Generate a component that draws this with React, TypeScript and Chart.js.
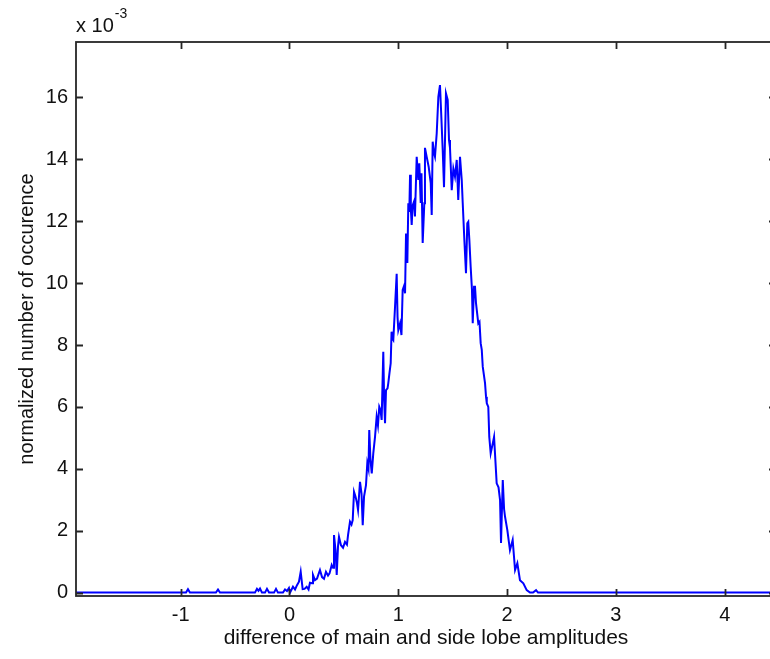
import React, { useEffect, useRef } from "react";
import { Chart, registerables } from "chart.js";

Chart.register(...registerables);

// x values (difference of amplitudes)
const xValues = [
  -1.962, -0.951, -0.933, -0.915, -0.676, -0.657, -0.639, -0.317, -0.299, -0.285, -0.271, -0.253,
  -0.225, -0.207, -0.188, -0.142, -0.124, -0.106, -0.06, -0.041, -0.023, -0.005, 0.005,
  0.032, 0.051, 0.069, 0.087, 0.103, 0.121, 0.138, 0.158, 0.175, 0.188, 0.207, 0.216, 0.234, 0.253,
  0.28, 0.299, 0.317, 0.335, 0.354, 0.368, 0.388, 0.4, 0.409, 0.423, 0.434, 0.446, 0.455, 0.473,
  0.492, 0.51, 0.528, 0.538, 0.556, 0.57, 0.581, 0.593, 0.607, 0.62, 0.63, 0.648, 0.662, 0.673,
  0.685, 0.703, 0.715, 0.726, 0.733, 0.744, 0.756, 0.77, 0.786, 0.801, 0.813, 0.825, 0.836, 0.847,
  0.855, 0.862, 0.87, 0.878, 0.887, 0.901, 0.908, 0.919, 0.93, 0.938, 0.947, 0.954, 0.97, 0.985,
  0.993, 1.0, 1.016, 1.029, 1.04, 1.052, 1.062, 1.071, 1.083, 1.092, 1.101, 1.108, 1.115, 1.123,
  1.131, 1.144, 1.153, 1.169, 1.184, 1.193, 1.206, 1.213, 1.224, 1.239, 1.245, 1.261, 1.279, 1.298,
  1.307, 1.316, 1.328, 1.337, 1.353, 1.368, 1.383, 1.392, 1.408, 1.42, 1.438, 1.454, 1.466, 1.475,
  1.491, 1.506, 1.521, 1.537, 1.551, 1.567, 1.583, 1.592, 1.607, 1.622, 1.634, 1.643, 1.653, 1.665,
  1.677, 1.684, 1.696, 1.705, 1.714, 1.735, 1.746, 1.757, 1.767, 1.776, 1.797, 1.806, 1.813, 1.827,
  1.836, 1.849, 1.868, 1.88, 1.904, 1.921, 1.935, 1.944, 1.96, 1.972, 1.981, 2.002, 2.026, 2.051,
  2.073, 2.094, 2.118, 2.149, 2.18, 2.21, 2.238, 2.266, 2.284, 4.471,
];

// normalized number of occurence, in units of 1e-3
const yValues = [
  0, 0, 0.11, 0, 0, 0.1, 0, 0, 0.12, 0.06, 0.13, 0,
  0, 0.12, 0, 0, 0.12, 0, 0, 0.1, 0.05, 0.15, 0,
  0.19, 0.1, 0.24, 0.35, 0.67, 0.11, 0.12, 0.19, 0.1, 0.32, 0.3, 0.57, 0.4, 0.45,
  0.73, 0.5, 0.45, 0.67, 0.55, 0.62, 0.89, 0.8, 1.86, 1.37, 0.57, 1.5, 1.8, 1.53,
  1.45, 1.64, 1.55, 1.86, 2.29, 2.2, 2.34, 3.26, 3.1, 2.9, 2.67, 3.58, 3.2, 2.18,
  3.1, 3.47, 4.18, 4.0, 5.25, 4.3, 3.85, 4.5, 5.03, 5.68, 5.4, 6.0, 5.9, 5.58,
  6.77, 7.78, 6.2, 5.47, 6.54, 6.6, 6.77, 7.1, 7.41, 8.43, 8.2, 8.16, 9.24, 10.3,
  8.9, 8.48, 8.7, 8.32, 9.78, 9.9, 9.67, 11.6, 10.65, 12.58, 12.3, 13.5, 12.4, 11.88,
  12.5, 12.63, 12.15, 14.08, 13.33, 13.87, 12.59, 13.55, 11.3, 12.58, 14.37, 14.08, 13.76, 13.23,
  12.2, 14.57, 14.2, 14.08, 14.84, 16.02, 16.4, 15.66, 14.3, 13.1, 16.13, 15.92, 14.62, 14.37,
  13.0, 13.7, 13.44, 13.98, 12.69, 14.08, 13.33, 12.59, 11.39, 10.32, 11.93, 11.98, 11.39, 10.53,
  9.78, 8.7, 9.88, 9.88, 9.35, 8.7, 8.75, 8.06, 7.84, 7.3, 6.77, 6.33, 6.12, 6.0,
  5.03, 4.5, 4.82, 5.03, 3.53, 3.4, 2.99, 1.6, 3.64, 2.7, 2.45, 2.02, 1.37, 1.7,
  0.73, 0.95, 0.4, 0.3, 0.08, 0, 0, 0.08, 0, 0,
];

const xTickValues = [-1, 0, 1, 2, 3, 4];
const yTickValues = [0, 2, 4, 6, 8, 10, 12, 14, 16];
const xMin = -1.962;
const xMax = 4.471;
const yMin = -0.11;
const yMax = 17.79;

const xTitle = "difference of main and side lobe amplitudes";
const yTitle = "normalized number of occurence";
const exponentBase = "x 10";
const exponentPower = "-3";

const FONT = "Arial, 'Liberation Sans', sans-serif";
const AXIS_COLOR = "#262626";

const framePlugin = {
  id: "matlabFrame",
  afterDraw(chart: any) {
    const { ctx, chartArea } = chart;
    const { left, right, top, bottom } = chartArea;
    const xs = chart.scales.x;
    const ys = chart.scales.y;
    const tick = 7;
    ctx.save();
    ctx.strokeStyle = AXIS_COLOR;
    ctx.lineWidth = 1.8;
    ctx.strokeRect(left, top, right - left, bottom - top);
    ctx.beginPath();
    for (const v of xTickValues) {
      const px = Math.round(xs.getPixelForValue(v)) + 0.5;
      ctx.moveTo(px, bottom);
      ctx.lineTo(px, bottom - tick);
      ctx.moveTo(px, top);
      ctx.lineTo(px, top + tick);
    }
    for (const v of yTickValues) {
      const py = Math.round(ys.getPixelForValue(v)) + 0.5;
      ctx.moveTo(left, py);
      ctx.lineTo(left + tick, py);
      ctx.moveTo(right, py);
      ctx.lineTo(right - tick, py);
    }
    ctx.stroke();
    // exponent label
    ctx.fillStyle = "#111";
    ctx.textBaseline = "alphabetic";
    ctx.textAlign = "left";
    ctx.font = `20px ${FONT}`;
    ctx.fillText(exponentBase, left, 32);
    const w = ctx.measureText(exponentBase).width;
    ctx.font = `14px ${FONT}`;
    ctx.fillText(exponentPower, left + w + 1, 18);
    ctx.restore();
  },
};

export default function App() {
  const canvasRef = useRef<HTMLCanvasElement | null>(null);

  useEffect(() => {
    const canvas = canvasRef.current;
    if (!canvas) return;
    const points = xValues.map((x, i) => ({ x, y: yValues[i] }));
    const chart = new Chart(canvas, {
      type: "line",
      data: {
        datasets: [
          {
            data: points,
            borderColor: "#0000ff",
            borderWidth: 2,
            pointRadius: 0,
            tension: 0,
            fill: false,
          },
        ],
      },
      options: {
        animation: false,
        responsive: false,
        devicePixelRatio: 1,
        events: [],
        layout: { padding: { left: 11, top: 42, right: 14, bottom: 5 } },
        plugins: { legend: { display: false }, tooltip: { enabled: false } },
        scales: {
          x: {
            type: "linear",
            min: xMin,
            max: xMax,
            grid: { display: false, drawTicks: false },
            border: { display: false },
            afterBuildTicks: (s: any) => {
              s.ticks = xTickValues.map((v) => ({ value: v }));
            },
            afterFit: (s: any) => {
              s.height = 659 - 5 - 596;
            },
            ticks: {
              autoSkip: false,
              maxRotation: 0,
              padding: 7,
              color: "#111",
              font: { family: FONT, size: 20 },
              callback: (v: any) => String(v),
            },
            title: {
              display: true,
              text: xTitle,
              color: "#111",
              font: { family: FONT, size: 21 },
              padding: { top: 0, bottom: 3 },
            },
          },
          y: {
            type: "linear",
            min: yMin,
            max: yMax,
            grid: { display: false, drawTicks: false },
            border: { display: false },
            afterBuildTicks: (s: any) => {
              s.ticks = yTickValues.map((v) => ({ value: v }));
            },
            afterFit: (s: any) => {
              s.width = 76 - 11;
            },
            ticks: {
              autoSkip: false,
              padding: 8,
              color: "#111",
              font: { family: FONT, size: 20 },
              callback: (v: any) => String(v),
            },
            title: {
              display: true,
              text: yTitle,
              color: "#111",
              font: { family: FONT, size: 20 },
              padding: { top: 4, bottom: 0 },
            },
          },
        },
      },
      plugins: [framePlugin],
    });
    return () => chart.destroy();
  }, []);

  return (
    <div
      style={{
        position: "absolute",
        left: 0,
        top: 0,
        width: 770,
        height: 659,
        overflow: "hidden",
        background: "#fff",
      }}
    >
      <canvas ref={canvasRef} width={790} height={659} style={{ display: "block" }} />
    </div>
  );
}
